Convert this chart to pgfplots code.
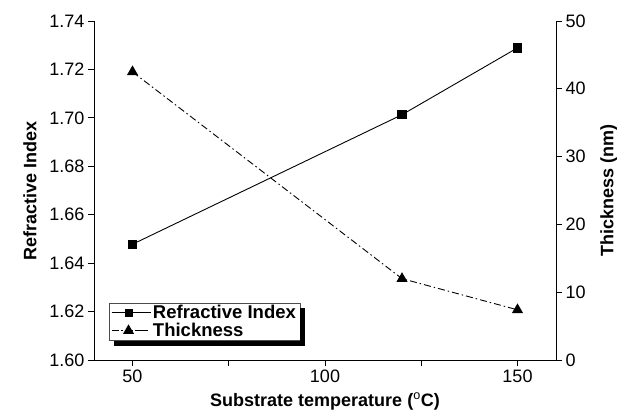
\documentclass[border=0pt]{standalone}
\usepackage{pgfplots}
\pgfplotsset{compat=1.18}
\usepackage{fontspec}
\setmainfont{Liberation Sans}
\pgfplotsset{
  thicklegend/.style={legend image code/.code={
    \draw[##1, mark=none, solid] (1pt,0pt) -- (5pt,0pt);
    \draw[##1, mark=none, solid] (9pt,0pt) -- (11pt,0pt);
    \draw[##1, mark=none, solid] (23pt,0pt) -- (29pt,0pt);
    \draw[##1, solid] plot coordinates {(17pt,0pt)};
    \path (0pt,0pt) -- (39pt,0pt);}},
}
\begin{document}
\begin{tikzpicture}
\pgfplotsset{
  every axis/.append style={
    width=462pt, height=339pt, scale only axis,
    at={(0,0)}, anchor=south west,
    /pgf/number format/assume math mode=true,
    tick label style={font=\fontsize{18}{20}\selectfont},
    label style={font=\fontsize{18}{20}\selectfont\bfseries},
    tick style={black, line width=0.8pt},
    major tick length=6pt, minor tick length=6pt,
    tick align=outside,
    axis line style={line width=0.9pt},
    xmin=40, xmax=160,
  }
}
\begin{axis}[
  ymin=1.60, ymax=1.74,
  ytick={1.60,1.62,...,1.741},
  yticklabel style={/pgf/number format/.cd, fixed, fixed zerofill, precision=2},
  xtick={50,100,150},
  minor xtick={75,125},
  xtick pos=bottom, ytick pos=left,
  axis y line*=left,
  axis x line*=bottom,
  xlabel={Substrate temperature ($^{\mathrm{o}}$C)},
  ylabel={Refractive Index},
  ylabel style={yshift=6pt},
  xlabel style={yshift=-4pt},
]
\addplot[black, line width=0.9pt, mark=square*, mark size=4.2pt, mark options={solid}]
  coordinates {(50,1.6478) (120,1.7013) (150,1.7289)};
\end{axis}
\begin{axis}[
  ymin=0, ymax=50,
  ytick={0,10,...,50},
  axis y line*=right,
  axis x line=none,
  hide x axis,
  ylabel={Thickness (nm)},
  ylabel style={yshift=-8pt},
  legend style={name=leg, at={(0.032,0.056)}, anchor=south west,
    font=\fontsize{18.5}{20}\selectfont\bfseries,
    draw=black!70, line width=0.6pt, fill=white,
    inner xsep=2pt, inner ysep=1pt, row sep=0pt,
    nodes={inner ysep=1.5pt}},
  legend cell align=left,
  legend image code/.code={
    \draw[#1, mark=none, solid] (0pt,0pt) -- (10pt,0pt);
    \draw[#1, mark=none, solid] (24pt,0pt) -- (34pt,0pt);
    \draw[#1, solid] plot coordinates {(17pt,0pt)};
    \path (0pt,0pt) -- (39pt,0pt);},
]
\addlegendimage{black, line width=0.9pt, mark=square*, mark size=3.5pt}
\addlegendentry{Refractive Index}
\addplot[black, line width=0.9pt, dash pattern=on 7pt off 3pt on 1.5pt off 3pt, mark=triangle*, mark size=5.5pt, mark options={solid}, thicklegend]
  coordinates {(50,42.5) (120,12.0) (150,7.4)};
\addlegendentry{Thickness}
\end{axis}
\fill[black] ([shift={(0pt,-5pt)}]leg.north east) rectangle ([shift={(5pt,-5pt)}]leg.south east);
\fill[black] ([shift={(5pt,0pt)}]leg.south west) rectangle ([shift={(5pt,-5pt)}]leg.south east);
\pgfresetboundingbox
\useasboundingbox (-94pt,-60pt) rectangle (530pt,360pt);
\end{tikzpicture}
\end{document}
